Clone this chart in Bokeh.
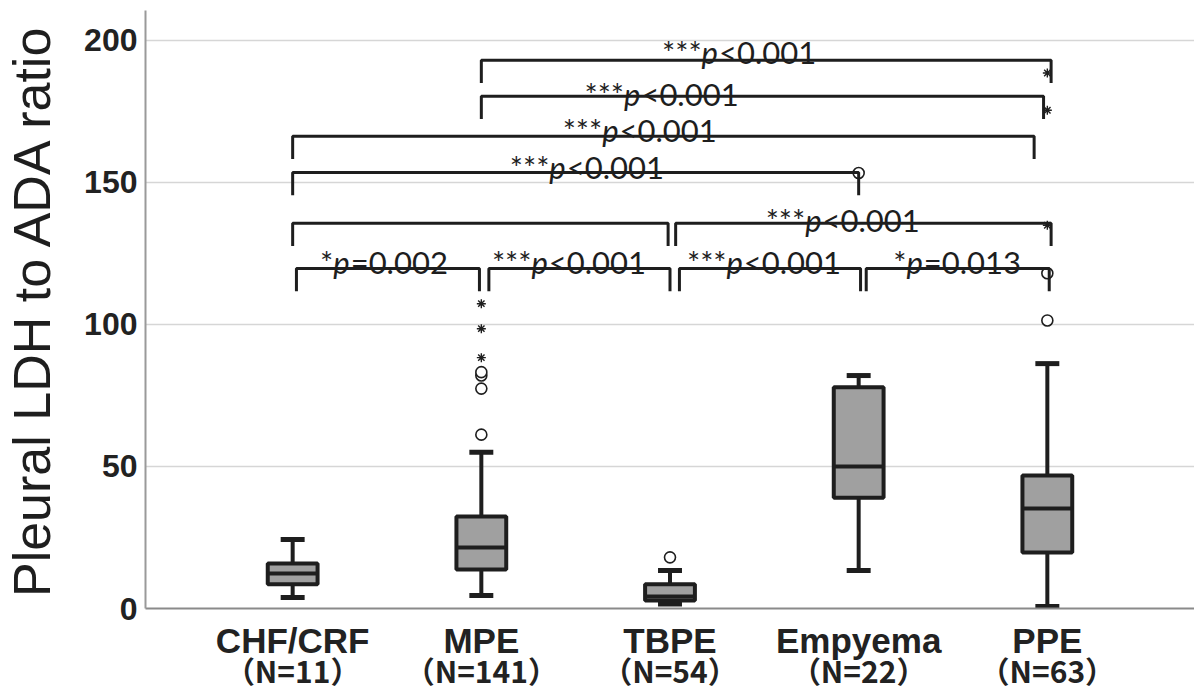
from bokeh.plotting import figure
from bokeh.models import Range1d, FixedTicker, LinearAxis, ColumnDataSource
from bokeh.core.properties import value
from bokeh.embed import file_html
from bokeh.resources import INLINE

# ---------------- data ----------------
groups = ["CHF/CRF", "MPE", "TBPE", "Empyema", "PPE"]
group_n = ["（N=11）", "（N=141）", "（N=54）", "（N=22）", "（N=63）"]
group_pos = [1, 2, 3, 4, 5]

q1 = [8.5, 13.7, 2.8, 39.0, 19.7]
median = [12.3, 21.5, 4.2, 50.0, 35.2]
q3 = [15.8, 32.4, 8.5, 77.9, 46.8]
lower = [3.9, 4.6, 1.6, 13.4, 0.7]
upper = [24.3, 55.0, 13.4, 82.0, 86.2]

outlier_group = [2, 2, 2, 2, 3, 4, 5, 5]
outlier_value = [61.2, 77.4, 82.0, 83.2, 18.0, 153.3, 101.4, 118.0]
extreme_group = [2, 2, 2, 5, 5, 5]
extreme_value = [88.3, 98.5, 107.3, 134.9, 175.4, 188.5]

bracket_left = [2.0, 2.0, 1.0, 1.0, 3.03, 1.0, 1.02, 2.04, 3.05, 4.04]
bracket_right = [5.02, 4.98, 4.93, 4.0, 5.02, 2.99, 1.99, 3.0, 4.01, 5.01]
bracket_y = [193.0, 180.3, 166.2, 153.5, 135.6, 135.6, 119.7, 119.7, 119.7, 119.7]

label_stars = ["***", "***", "***", "***", "***", "*", "***", "***", "*"]
label_rest = ["<0.001", "<0.001", "<0.001", "<0.001", "<0.001", "=0.002", "<0.001", "<0.001", "=0.013"]
label_x = [3.358, 2.947, 2.831, 2.551, 3.907, 1.475, 2.456, 3.490, 4.513]
label_y = [195.8, 181.0, 168.3, 155.3, 136.6, 121.8, 121.8, 121.8, 121.8]

y_ticks = [0, 50, 100, 150, 200]

# ---------------- figure ----------------
W, H = 1194, 695
p = figure(width=W, height=H, output_backend="svg", toolbar_location=None,
           x_range=Range1d(0.22, 5.78), y_range=Range1d(0, 210.5),
           min_border_left=140, min_border_right=0, min_border_top=10,
           min_border_bottom=87)
p.outline_line_color = None
p.background_fill_color = "white"

INK = "#1e1e1e"
BOXW = 0.264
CAPW = 0.127

# grid
p.xgrid.visible = False
p.ygrid.ticker = FixedTicker(ticks=y_ticks)
p.ygrid.grid_line_color = "#d6d6d6"
p.ygrid.grid_line_width = 1.5

# y axis
p.yaxis.ticker = FixedTicker(ticks=y_ticks)
p.yaxis.axis_label = "Pleural LDH to ADA ratio"
p.yaxis.axis_label_text_font = "Liberation Sans"
p.yaxis.axis_label_text_font_style = "normal"
p.yaxis.axis_label_text_font_size = "52px"
p.yaxis.axis_label_text_color = "#1e1e1e"
p.yaxis.axis_label_standoff = 20
p.yaxis.major_label_text_font = "Liberation Sans"
p.yaxis.major_label_text_font_style = "bold"
p.yaxis.major_label_text_font_size = "32px"
p.yaxis.major_label_text_color = "#222222"
p.yaxis.major_label_standoff = 8
p.yaxis.major_tick_out = 0
p.yaxis.major_tick_in = 0
p.yaxis.minor_tick_line_color = None
p.yaxis.axis_line_color = "#9a9a9a"
p.yaxis.axis_line_width = 2

# x axis (category names)
p.xaxis.ticker = FixedTicker(ticks=group_pos)
p.xaxis.major_label_overrides = {gp: g for gp, g in zip(group_pos, groups)}
p.xaxis.major_label_text_font = "Liberation Sans"
p.xaxis.major_label_text_font_style = "bold"
p.xaxis.major_label_text_font_size = "35px"
p.xaxis.major_label_text_color = "#222222"
p.xaxis.major_label_standoff = 12
p.xaxis.major_tick_out = 0
p.xaxis.major_tick_in = 0
p.xaxis.minor_tick_line_color = None
p.xaxis.axis_line_color = "#8a8a8a"
p.xaxis.axis_line_width = 2

# second x axis with group sizes
ax2 = LinearAxis(ticker=FixedTicker(ticks=group_pos),
                 major_label_overrides={gp: n for gp, n in zip(group_pos, group_n)})
ax2.axis_line_color = None
ax2.major_tick_out = 0
ax2.major_tick_in = 0
ax2.minor_tick_line_color = None
ax2.major_label_standoff = -15
ax2.major_label_text_font = "Noto Sans CJK JP"
ax2.major_label_text_font_style = "bold"
ax2.major_label_text_font_size = "30px"
ax2.major_label_text_color = "#222222"
p.add_layout(ax2, "below")

# ---------------- boxes ----------------
src = ColumnDataSource(dict(x=group_pos, q1=q1, med=median, q3=q3, lo=lower, hi=upper))
p.segment(x0="x", y0="q3", x1="x", y1="hi", source=src, line_color=INK, line_width=4)
p.segment(x0="x", y0="lo", x1="x", y1="q1", source=src, line_color=INK, line_width=4)
cap_src = ColumnDataSource(dict(x0=[g - CAPW / 2 for g in group_pos],
                                x1=[g + CAPW / 2 for g in group_pos],
                                bx0=[g - BOXW / 2 for g in group_pos],
                                bx1=[g + BOXW / 2 for g in group_pos],
                                lo=lower, hi=upper, med=median))
p.segment(x0="x0", y0="hi", x1="x1", y1="hi", source=cap_src, line_color=INK, line_width=5)
p.segment(x0="x0", y0="lo", x1="x1", y1="lo", source=cap_src, line_color=INK, line_width=5)
p.vbar(x="x", width=BOXW, bottom="q1", top="q3", source=src,
       fill_color="#a0a0a0", line_color=INK, line_width=4)
p.segment(x0="bx0", y0="med", x1="bx1", y1="med", source=cap_src, line_color=INK,
          line_width=4)

# outliers
p.scatter(x=outlier_group, y=outlier_value, marker="circle", size=11,
          fill_color="white", line_color=INK, line_width=1.6)
p.scatter(x=extreme_group, y=extreme_value, marker="asterisk", size=9,
          line_color=INK, line_width=1.4)

# ---------------- brackets ----------------
DROP = 8.0
xs = [[l, l, r, r] for l, r in zip(bracket_left, bracket_right)]
ys = [[y - DROP, y, y, y - DROP] for y in bracket_y]
p.multi_line(xs=xs, ys=ys, line_color=INK, line_width=3)

FS = 31
cw = {"*": 0.42, "<": 0.58, "=": 0.58, ".": 0.24, "0": 0.55, "1": 0.55, "2": 0.55, "3": 0.55}
PW = 0.56 * FS
anchors = []
for st, rest in zip(label_stars, label_rest):
    ws = sum(cw[c] for c in st) * FS
    wr = sum(cw[c] for c in rest) * FS
    total = ws + PW + wr
    anchors.append(-total / 2 + ws)

lab = ColumnDataSource(dict(x=label_x, y=label_y, stars=label_stars, rest=label_rest,
                            p=["p"] * len(label_x), off=anchors,
                            off2=[a + PW for a in anchors]))
common = dict(text_font=value("Lato"), text_font_size=f"{FS}px", text_color=INK,
              text_baseline="alphabetic")
p.text(x="x", y="y", text="stars", x_offset="off", text_align="right", source=lab, **common)
p.text(x="x", y="y", text="p", x_offset="off", text_align="left", source=lab,
       text_font_style="italic", **common)
p.text(x="x", y="y", text="rest", x_offset="off2", text_align="left", source=lab, **common)

open("out.html", "w").write(file_html(p, INLINE))
